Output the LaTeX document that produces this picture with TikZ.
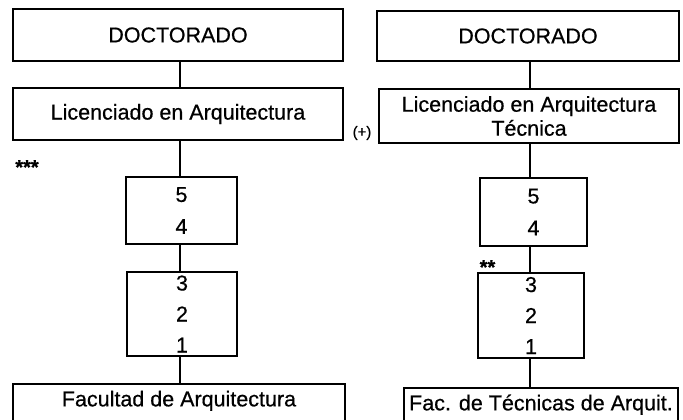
\documentclass[tikz,border=0pt]{standalone}
\usepackage{fontspec}
\setmainfont{Liberation Sans}[FakeBold=0.6]
\usetikzlibrary{calc, shapes, backgrounds}

\begin{document}
\begin{tikzpicture}[x=1pt, y=1pt, line width=1.7pt,
    caja/.style={draw, rectangle, inner sep=0pt, align=center,
      font=\fontsize{21.5}{24}\selectfont},
    facbox/.style={caja, anchor=north, inner ysep=7pt,
      text height=15.5pt, text depth=30pt},
    nota/.style={inner sep=0pt, font=\fontsize{20}{20}\selectfont\bfseries}
  ]
  \useasboundingbox (0,0) rectangle (683,420);
  % left column
  \node[caja, minimum width=330pt, minimum height=52pt] (docL) at (178,385) {DOCTORADO};
  \node[caja, minimum width=330pt, minimum height=52pt] (licL) at (178,306) {Licenciado en Arquitectura};
  \node[caja, minimum width=111pt, minimum height=67pt,
    font=\fontsize{21.5}{32}\selectfont] (supL) at (181.5,209.5) {5\\4};
  \node[caja, minimum width=110pt, minimum height=84pt,
    font=\fontsize{21.5}{31}\selectfont] (infL) at (182,106) {3\\2\\1};
  \node[facbox, minimum width=332pt] (facL) at (179,37) {Facultad de Arquitectura};
  % right column
  \node[caja, minimum width=302pt, minimum height=50pt] (docR) at (528,384) {DOCTORADO};
  \node[caja, minimum width=300pt, minimum height=54pt] (licR) at (529,304) {Licenciado en Arquitectura\\T\'ecnica};
  \node[caja, minimum width=107pt, minimum height=68pt,
    font=\fontsize{21.5}{32}\selectfont] (supR) at (533.5,208) {5\\4};
  \node[caja, minimum width=106pt, minimum height=85pt,
    font=\fontsize{21.5}{31}\selectfont] (infR) at (531,104.5) {3\\2\\1};
  \node[facbox, minimum width=274pt] (facR) at (541,33) {Fac. de T\'ecnicas de Arquit.};
  % the vertical links
  \coordinate (ejeL) at (180,0);
  \coordinate (ejeR) at (530,0);
  \foreach \a/\b in {docL/licL, licL/supL, supL/infL, infL/facL}
    \draw (\a.south -| ejeL) -- (\b.north -| ejeL);
  \foreach \a/\b in {docR/licR, licR/supR, supR/infR, infR/facR}
    \draw (\a.south -| ejeR) -- (\b.north -| ejeR);
  % marks
  \node[nota, anchor=base] (tresast) at (27,246) {***};
  \node[nota, anchor=base] (dosast) at (487.5,146) {**};
  \node[inner sep=0pt, font=\fontsize{15}{15}\selectfont] (mas) at (362,287) {(+)};
\end{tikzpicture}
\end{document}
